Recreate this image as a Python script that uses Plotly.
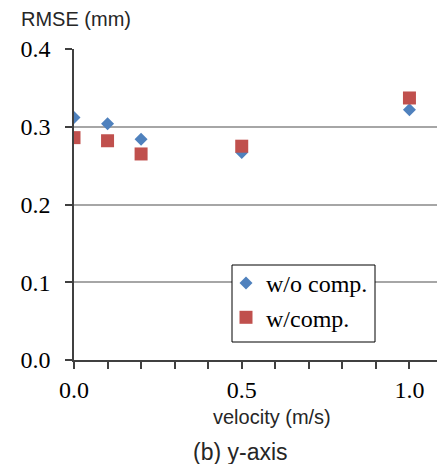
import plotly.graph_objects as go

velocity = [0.0, 0.1, 0.2, 0.5, 1.0]
rmse_wo_comp = [0.312, 0.304, 0.284, 0.267, 0.322]
rmse_w_comp = [0.286, 0.282, 0.265, 0.275, 0.337]
series_names = ["w/o comp.", "w/comp."]
x_tickvals = [0.0, 0.1, 0.2, 0.3, 0.4, 0.5, 0.6, 0.7, 0.8, 0.9, 1.0, 1.1]
x_ticktext = ["0.0", "", "", "", "", "0.5", "", "", "", "", "1.0", ""]
y_tickvals = [0.0, 0.1, 0.2, 0.3, 0.4]

serif = "Liberation Serif, Times New Roman, serif"
sans = "Liberation Sans, Arial, sans-serif"

# page body has an 8px margin: figure is drawn 8px right/down
OFF = 8
W, H = 445 - OFF, 464 - OFF
PL, PR, PT, PB = 74, 443, 49, 360  # plot area in window pixels
pw, ph = PR - PL, PB - PT


def px(xw):
    return (xw - PL) / pw


def py(yw):
    return (PB - yw) / ph


fig = go.Figure()
fig.add_trace(go.Scatter(
    x=velocity, y=rmse_wo_comp, mode="markers", name=series_names[0],
    legendgroup="a",
    marker=dict(symbol="diamond", size=10, color="#4F81BD", line=dict(width=0)),
))
fig.add_trace(go.Scatter(
    x=velocity, y=rmse_w_comp, mode="markers", name=series_names[1],
    legendgroup="b",
    marker=dict(symbol="square", size=13, color="#C0504D", line=dict(width=0)),
))

fig.update_layout(
    width=W, height=H,
    margin=dict(l=PL - OFF, r=W - (PR - OFF), t=PT - OFF, b=H - (PB - OFF), autoexpand=False),
    paper_bgcolor="white", plot_bgcolor="white",
    showlegend=True,
    legend=dict(
        x=px(234), y=py(261), xanchor="left", yanchor="top",
        borderwidth=0, bgcolor="rgba(0,0,0,0)",
        font=dict(family=serif, size=24, color="black"),
        tracegroupgap=14, indentation=-8,
        traceorder="normal",
    ),
    xaxis=dict(
        range=[0, 1.1], tickvals=x_tickvals, ticktext=x_ticktext,
        showgrid=False, zeroline=False,
        showline=True, linecolor="#404040", linewidth=1.5,
        ticks="outside", ticklen=7, tickcolor="#404040", tickwidth=1.5,
        tickfont=dict(family=serif, size=24, color="black"),
        ticklabelstandoff=0,
    ),
    yaxis=dict(
        range=[0, 0.4], tickvals=y_tickvals, tickformat=".1f",
        showgrid=True, gridcolor="#A6A6A6", gridwidth=1.5,
        zeroline=False,
        showline=True, linecolor="#404040", linewidth=1.5,
        ticks="outside", ticklen=7, tickcolor="#404040", tickwidth=1.5,
        tickfont=dict(family=serif, size=24, color="black"),
        ticklabelstandoff=10,
    ),
    shapes=[
        dict(type="rect", xref="paper", yref="paper",
             x0=px(232), x1=px(375), y0=py(342), y1=py(265),
             line=dict(color="black", width=1), fillcolor="white", layer="above"),
    ],
    annotations=[
        dict(text="RMSE (mm)", xref="paper", yref="paper", x=px(76), y=py(19),
             xanchor="center", yanchor="middle", showarrow=False,
             font=dict(family=sans, size=20, color="#262626")),
        dict(text="velocity (m/s)", xref="paper", yref="paper", x=px(272), y=py(417),
             xanchor="center", yanchor="middle", showarrow=False,
             font=dict(family=sans, size=20, color="#262626")),
        dict(text="(b) y-axis", xref="paper", yref="paper", x=px(240), y=py(452),
             xanchor="center", yanchor="middle", showarrow=False,
             font=dict(family=sans, size=23, color="#262626")),
    ],
)

fig.write_html("out.html")
